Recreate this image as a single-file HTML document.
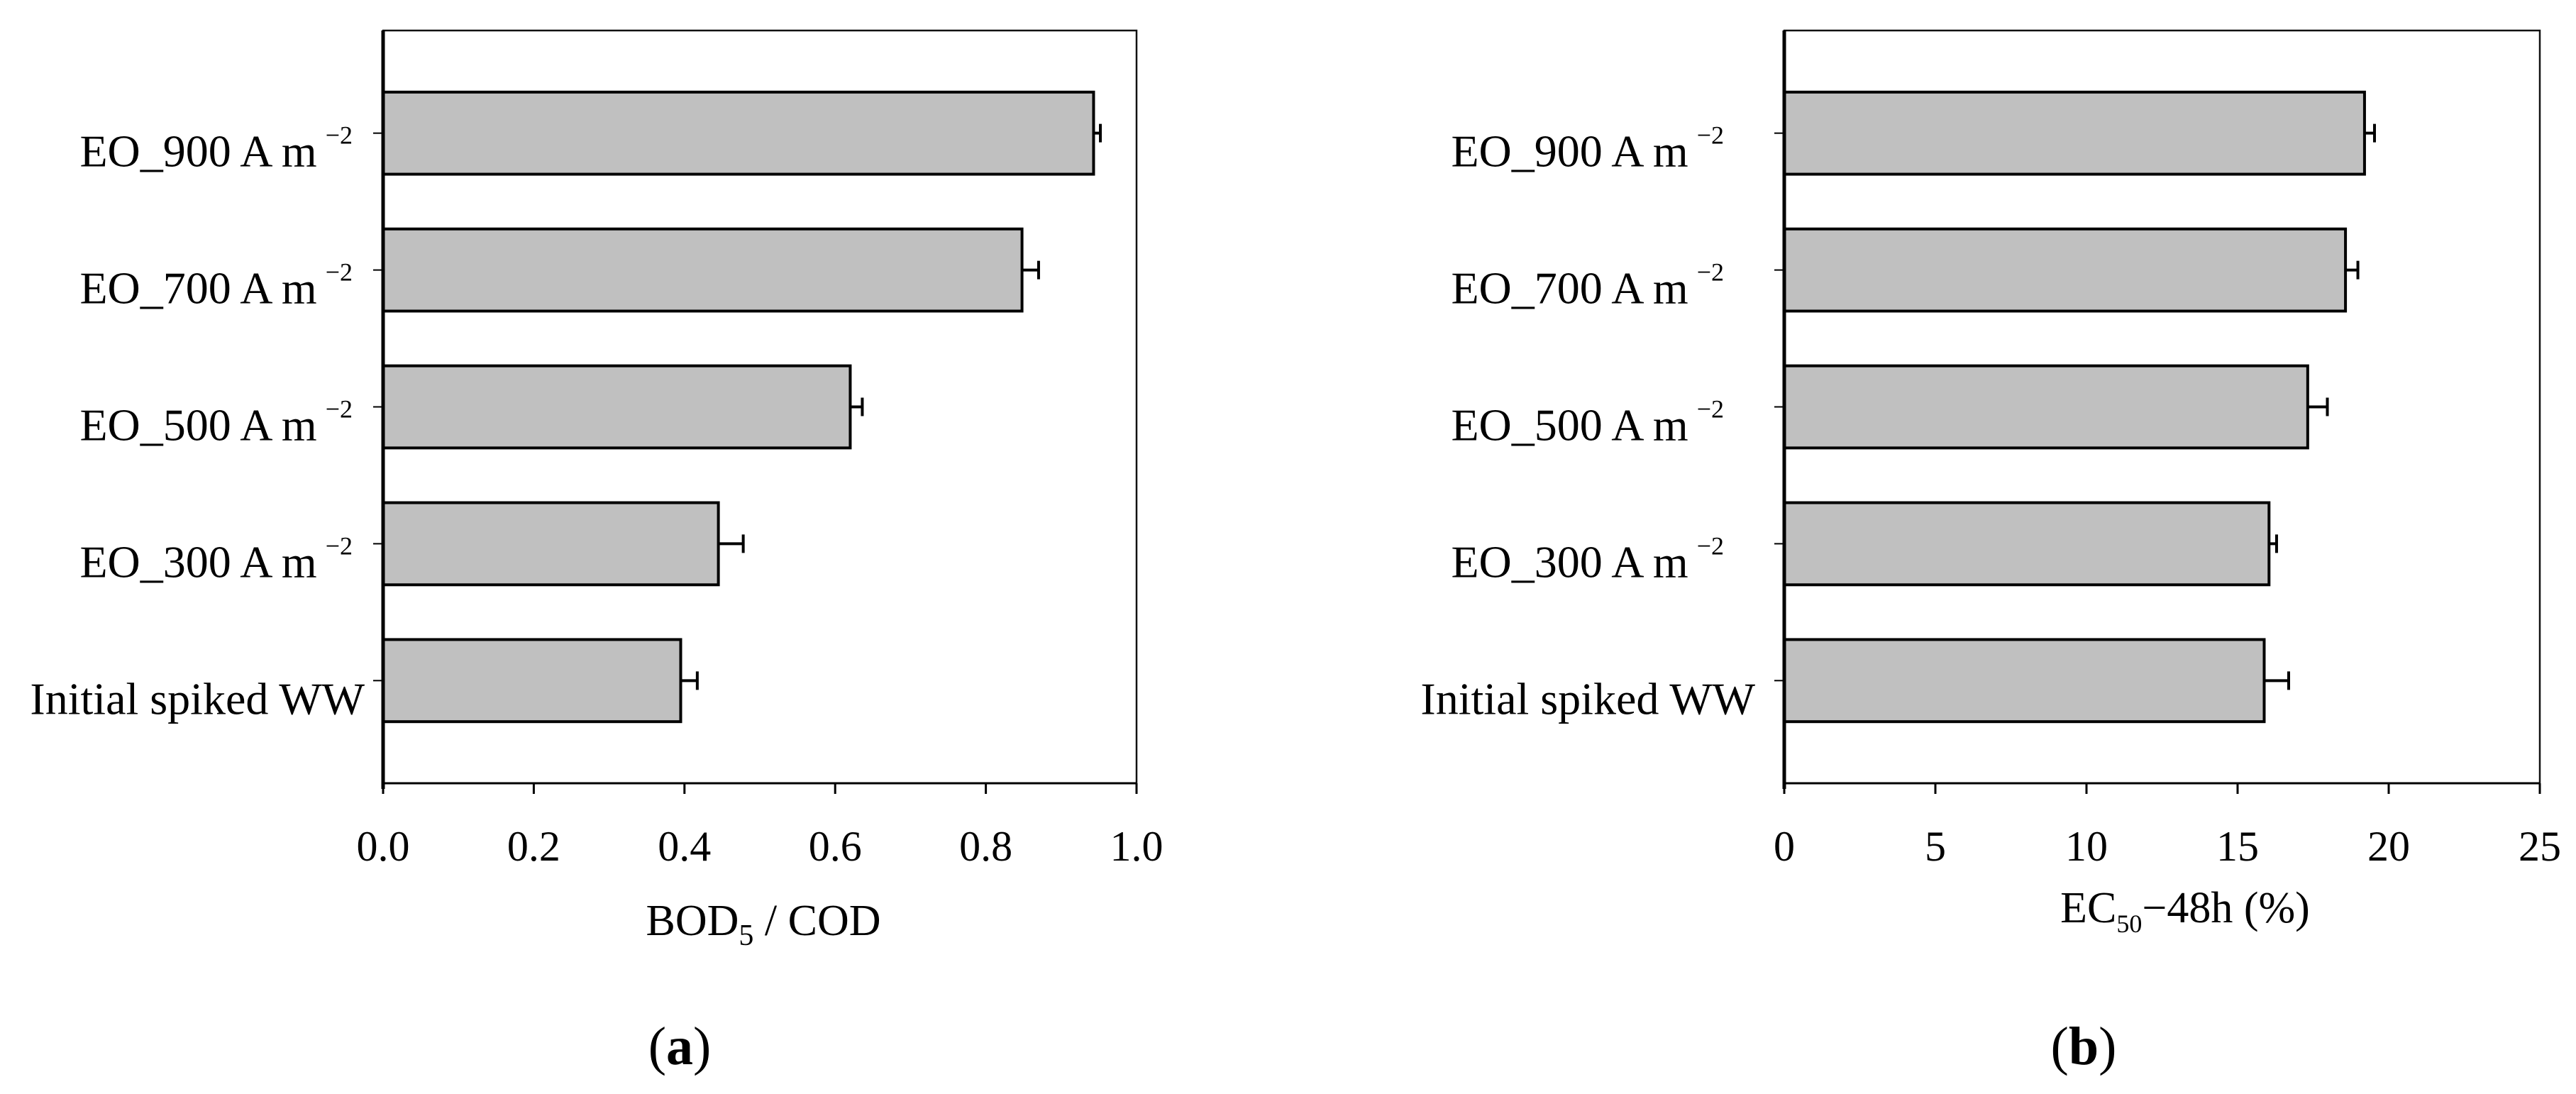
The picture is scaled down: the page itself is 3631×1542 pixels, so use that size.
<!DOCTYPE html>
<html><head><meta charset="utf-8"><style>
html,body{margin:0;padding:0;background:#fff;}
svg{display:block;font-family:"Liberation Serif",serif;}
</style></head><body>
<svg id="fig" width="3631" height="1542" viewBox="0 0 3631 1542" xmlns="http://www.w3.org/2000/svg"></svg>
<script>
const categories = ["EO_900 A m", "EO_700 A m", "EO_500 A m", "EO_300 A m", "Initial spiked WW"];
const supers = ["\u22122", "\u22122", "\u22122", "\u22122", ""];
const bodValues = [0.943, 0.848, 0.620, 0.445, 0.395];
const bodErrors = [0.009, 0.022, 0.016, 0.033, 0.022];
const bodTicks = ["0.0", "0.2", "0.4", "0.6", "0.8", "1.0"];
const ecValues = [19.2, 18.57, 17.32, 16.04, 15.88];
const ecErrors = [0.33, 0.41, 0.65, 0.25, 0.81];
const ecTicks = ["0", "5", "10", "15", "20", "25"];

const svg = document.getElementById('fig');
const NS = 'http://www.w3.org/2000/svg';
function mk(tag, attrs, parent) {
  const e = document.createElementNS(NS, tag);
  for (const k in attrs) e.setAttribute(k, attrs[k]);
  (parent || svg).appendChild(e);
  return e;
}

function drawChart(opt) {
  const g = mk('g', {});
  
  
  const top = 43, bottom = 1104, band = (bottom - top) / 5.5;
  const x = v => opt.x0 + (v - opt.min) / (opt.max - opt.min) * (opt.x1 - opt.x0);
  const yc = i => top + band * (0.75 + i);
  const bh = band * 0.6;
  const frame = mk('rect', {x: opt.x0, y: top, width: opt.x1 - opt.x0, height: bottom - top, fill: 'none', stroke: '#111', 'stroke-width': 2.5}, g);
  
  
  opt.values.forEach((v, i) => {
    const r = mk('rect', {x: x(opt.min), y: yc(i) - bh / 2, width: x(v) - x(opt.min), height: bh, fill: '#c0c0c0', stroke: '#000', 'stroke-width': 4}, g);
    
    
    const e = opt.errors[i];
    const eb = mk('path', {d: `M${x(v)},${yc(i)} H${x(v + e)} M${x(v + e)},${yc(i) - 13} V${yc(i) + 13}`, stroke: '#000', 'stroke-width': 4, fill: 'none'}, g);
    
    
    mk('line', {x1: opt.x0 - 14, x2: opt.x0, y1: yc(i), y2: yc(i), stroke: '#000', 'stroke-width': 2}, g);
    const t = mk('text', {y: yc(i) + 47, 'font-size': 64, 'text-anchor': 'end', fill: '#000'}, g);
    
    
    t.textContent = categories[i];
    if (supers[i]) {
      const s = mk('tspan', {dx: 12, dy: -32, 'font-size': 36}, t);
      s.textContent = supers[i];
      t.setAttribute('x', opt.labelRight + opt.supShift);
    } else {
      t.setAttribute('x', opt.labelRight + opt.plainShift);
    }
  });
  mk('line', {x1: opt.x0, x2: opt.x0, y1: top, y2: bottom + 8, stroke: '#000', 'stroke-width': 5}, g);
  mk('line', {x1: opt.x0, x2: opt.x1, y1: bottom, y2: bottom, stroke: '#000', 'stroke-width': 3}, g);
  opt.ticks.forEach(tk => {
    const v = parseFloat(tk);
    mk('line', {x1: x(v), x2: x(v), y1: bottom, y2: bottom + 15, stroke: '#000', 'stroke-width': 3}, g);
    const t = mk('text', {x: x(v), y: 1213, 'font-size': 60, 'text-anchor': 'middle'}, g);
    
    
    t.textContent = tk;
  });
  return g;
}

drawChart({name: 'chart-a', x0: 540, x1: 1602, min: 0, max: 1, values: bodValues, errors: bodErrors, ticks: bodTicks, labelRight: 412, supShift: 85, plainShift: 102});
drawChart({name: 'chart-b', x0: 2515, x1: 3580, min: 0, max: 25, values: ecValues, errors: ecErrors, ticks: ecTicks, labelRight: 2390, supShift: 40, plainShift: 84});

const ta = mk('text', {x: 1076, y: 1318, 'font-size': 62, 'text-anchor': 'middle'});


ta.innerHTML = 'BOD<tspan dy="14" font-size="42">5</tspan><tspan dy="-14"> / COD</tspan>';
const tb = mk('text', {x: 3080, y: 1300, 'font-size': 62, 'text-anchor': 'middle'});


tb.innerHTML = 'EC<tspan dy="14" font-size="36">50</tspan><tspan dy="-14">\u221248h (%)</tspan>';
const pa = mk('text', {x: 958, y: 1500, 'font-size': 76, 'text-anchor': 'middle'});


pa.innerHTML = '(<tspan font-weight="bold">a</tspan>)';
const pb = mk('text', {x: 2937, y: 1500, 'font-size': 76, 'text-anchor': 'middle'});


pb.innerHTML = '(<tspan font-weight="bold">b</tspan>)';
</script>
</body></html>
